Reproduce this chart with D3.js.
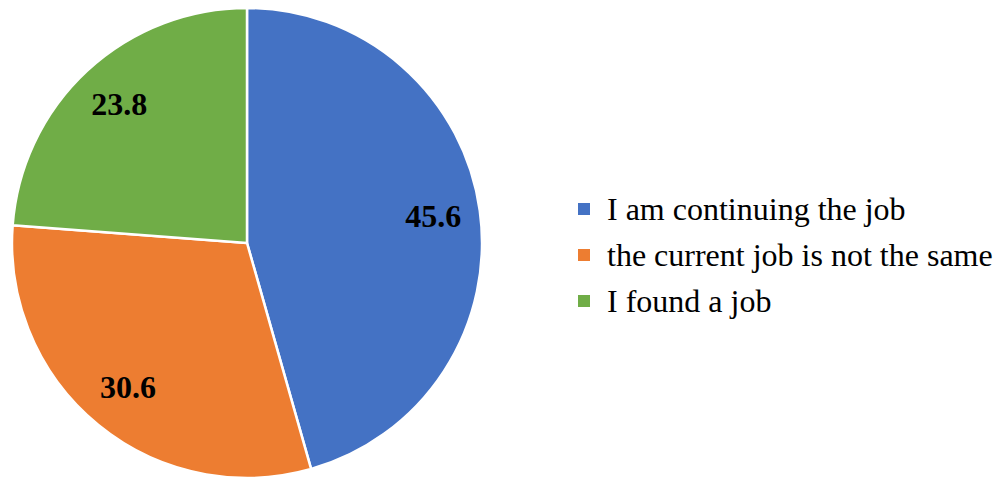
<!DOCTYPE html>
<html>
<head>
<meta charset="utf-8">
<script src="https://cdn.jsdelivr.net/npm/d3@7"></script>
<style>
  html, body { margin: 0; padding: 0; background: #fff; }
  svg { display: block; }
  .serif { font-family: "Liberation Serif", "Times New Roman", Times, serif; }
</style>
</head>
<body>
<svg id="chart" width="999" height="477"></svg>
<script>
// Survey answers and their shares (%)
const categories = ["I am continuing the job", "the current job is not the same", "I found a job"];
const values = [45.6, 30.6, 23.8];
const colors = ["#4472C4", "#ED7D31", "#70AD47"];

const svg = d3.select("#chart");
const cx = 247, cy = 243, radius = 235;

const pie = d3.pie().sort(null).value(d => d)(values);
const arc = d3.arc().innerRadius(0).outerRadius(radius);
const labelArc = d3.arc().innerRadius(radius * 0.8).outerRadius(radius * 0.8);

const g = svg.append("g").attr("transform", `translate(${cx},${cy})`);

g.selectAll("path.slice")
  .data(pie)
  .join("path")
  .attr("class", "slice")
  .attr("d", arc)
  .attr("fill", (d, i) => colors[i])
  .attr("stroke", "#fff")
  .attr("stroke-width", 2.5)
  .attr("stroke-linejoin", "round");

g.selectAll("text.val")
  .data(pie)
  .join("text")
  .attr("class", "val serif")
  .attr("transform", d => `translate(${labelArc.centroid(d)})`)
  .attr("text-anchor", "middle")
  .attr("dy", "0.3em")
  .style("font-weight", "bold")
  .style("font-size", "32px")
  .attr("fill", "#000")
  .text(d => d.data.toFixed(1));

// Legend
const legend = svg.append("g").attr("transform", "translate(578,0)");
const rowY = d3.scalePoint().domain(categories).range([209, 301]);

const rows = legend.selectAll("g.row")
  .data(categories)
  .join("g")
  .attr("class", "row")
  .attr("transform", d => `translate(0,${rowY(d)})`);

rows.append("rect")
  .attr("x", 0)
  .attr("y", -6)
  .attr("width", 12)
  .attr("height", 12)
  .attr("fill", (d, i) => colors[i]);

rows.append("text")
  .attr("class", "serif")
  .attr("x", 29)
  .attr("y", 11)
  .style("font-size", "32px")
  .attr("fill", "#000")
  .text(d => d);
</script>
</body>
</html>
